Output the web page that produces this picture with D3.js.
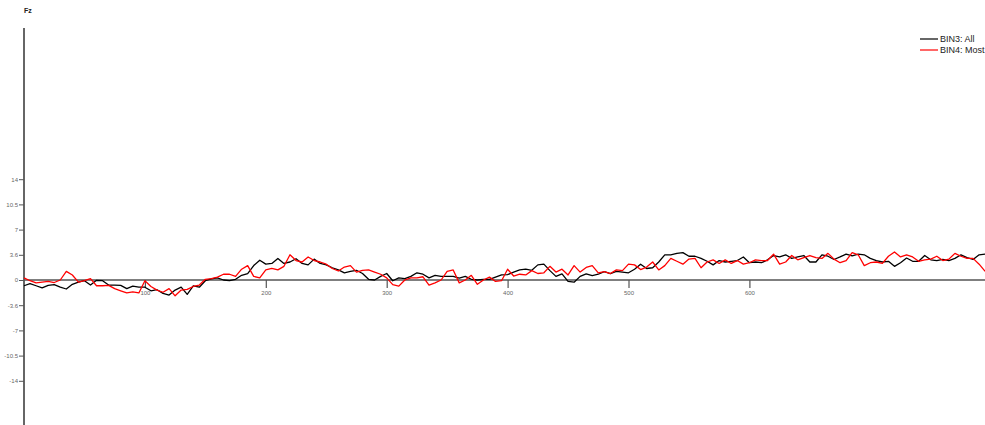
<!DOCTYPE html>
<html>
<head>
<meta charset="utf-8">
<script src="https://cdn.jsdelivr.net/npm/d3@7"></script>
<style>
  body { margin: 0; background: #fff; }
  svg { display: block; font-family: "Liberation Sans", Arial, sans-serif; }
</style>
</head>
<body>
<div id="chart-area"></div>
<script>
// channel + legend
var channelName = 'Fz';
var seriesNames = ['BIN3: All', 'BIN4: Most'];
var seriesColors = ['#000000', '#ff0000'];

// sample times (ms), one every 5 ms
var sampleStep = 5;
var times = d3.range(0, 800, sampleStep);

// amplitude (uV)
var bin3 = [
  -0.8, -0.5, -0.8, -1.1, -0.75, -0.65, -1.0, -1.25, -0.6, -0.3,
  -0.1, -0.7, -0.05, -0.1, -0.7, -0.7, -0.75, -1.2, -0.85, -1.0,
  -1.0, -1.5, -1.35, -1.85, -2.1, -1.4, -1.0, -2.0, -0.8, -1.0,
  -0.1, 0.15, 0.3, 0.0, -0.1, 0.1, 0.65, 0.9, 2.0, 2.75,
  2.2, 2.3, 3.0, 2.3, 2.5, 2.95, 2.3, 2.1, 2.9, 2.3,
  2.1, 1.7, 1.4, 1.0, 1.2, 1.35, 0.9, 0.1, 0.0, 0.5,
  0.9, -0.1, 0.3, 0.2, 0.5, 1.0, 0.8, 0.3, 0.65, 0.5,
  0.5, 0.5, 0.25, 0.5, 0.1, 0.0, 0.1, 0.1, 0.4, 0.7,
  0.75, 1.1, 1.4, 1.5, 1.35, 2.1, 2.2, 1.3, 0.5, 0.85,
  -0.2, -0.3, 0.5, 0.85, 0.6, 0.8, 1.15, 0.9, 1.2, 1.1,
  1.0, 1.5, 2.2, 1.6, 1.7, 2.5, 3.5, 3.5, 3.7, 3.8,
  3.3, 3.3, 3.0, 2.6, 2.1, 2.7, 2.5, 2.6, 2.7, 3.2,
  2.4, 2.5, 2.4, 2.8, 3.4, 3.2, 3.5, 3.0, 3.2, 3.4,
  2.5, 2.5, 3.5, 3.3, 2.85, 3.2, 3.6, 3.35, 3.6, 3.5,
  3.0, 2.7, 2.5, 2.6, 1.9, 2.4, 3.05, 2.6, 2.6, 3.4,
  2.8, 2.7, 2.85, 2.7, 3.0, 3.5, 3.1, 2.85, 3.5, 3.6
];

var bin4 = [
  0.3, -0.1, -0.4, -0.3, -0.2, -0.35, 0.0, 1.2, 0.7, -0.3,
  -0.1, 0.2, -0.8, -0.8, -0.75, -1.2, -1.5, -1.8, -1.65, -1.8,
  -0.1, -0.9, -1.4, -1.7, -1.2, -2.2, -1.4, -1.3, -0.9, -0.7,
  0.1, 0.2, 0.4, 0.8, 0.8, 0.5, 1.5, 2.0, 0.5, 0.3,
  1.4, 1.6, 1.4, 1.9, 3.5, 2.7, 2.5, 3.2, 2.7, 2.5,
  2.2, 1.6, 1.25, 1.8, 2.0, 1.1, 1.35, 1.4, 1.1, 0.8,
  0.3, -0.65, -0.85, 0.0, 0.3, 0.3, 0.45, -0.7, -0.4, 0.0,
  1.2, 1.4, -0.4, 0.0, 0.65, -0.6, 0.0, 0.4, -0.2, -0.1,
  1.5, 0.55, 0.8, 0.7, 1.3, 0.9, 1.0, 1.9, 1.1, 1.5,
  0.7, 2.0, 1.1, 1.75, 2.0, 1.0, 1.15, 0.9, 1.4, 1.3,
  2.2, 2.1, 1.45, 1.8, 2.5, 1.4, 2.0, 3.0, 2.6, 2.2,
  2.9, 3.0, 1.7, 2.5, 2.8, 2.3, 2.8, 2.3, 2.7, 2.2,
  2.4, 2.8, 2.7, 2.7, 3.6, 2.2, 2.5, 3.4, 2.8, 3.1,
  3.4, 3.1, 3.0, 3.7, 2.9, 2.4, 2.7, 3.8, 3.5, 2.0,
  2.4, 2.5, 2.3, 3.3, 3.9, 3.2, 3.5, 3.2, 2.6, 2.8,
  2.9, 3.3, 2.7, 2.9, 3.7, 3.3, 3.0, 3.0, 2.2, 1.2
];

var seriesValues = [bin3, bin4];

// axis ticks (labels as printed in the figure)
var xTickValues = [100, 200, 300, 400, 500, 600];
var yTickValues = [-14, -10.5, -7, -3.5, 0, 3.5, 7, 10.5, 14];
var yTickLabels = ['-14', '-10.5', '-7', '-3.6', '0', '3.6', '7', '10.5', '14'];

var width = 985, height = 425;

var svg = d3.select('#chart-area')
  .append('svg')
    .attr('width', width)
    .attr('height', height);

// scales
var xScale = d3.scaleLinear()
  .domain([0, 800])
  .range([24, 24 + 800 * 1.209]);

var yScale = d3.scaleLinear()
  .domain([-20, 35])
  .range([424, 28]);

// channel label
svg.append('text')
  .attr('x', 24)
  .attr('y', 13)
  .attr('font-size', '7px')
  .attr('font-weight', 'bold')
  .attr('fill', '#222')
  .text(channelName);

// y axis at time 0
var yAxisCall = d3.axisLeft(yScale)
  .tickValues(yTickValues)
  .tickSize(5)
  .tickPadding(1)
  .tickFormat((d, i) => yTickLabels[i]);

var yAxisGroup = svg.append('g')
  .attr('class', 'y-axis')
  .attr('transform', 'translate(' + xScale(0) + ', 0)')
  .call(yAxisCall);

yAxisGroup.select('.domain')
  .attr('d', 'M0,' + yScale(35) + 'V' + (height + 5))
  .attr('stroke', '#333')
  .attr('stroke-width', 1.5);

yAxisGroup.selectAll('.tick line').attr('stroke', '#555');
yAxisGroup.selectAll('.tick text')
  .attr('font-size', '6px')
  .attr('fill', '#666')
  .attr('font-family', '"Liberation Sans", Arial, sans-serif');

// x axis along zero
var xAxisCall = d3.axisBottom(xScale)
  .tickValues(xTickValues)
  .tickSize(8)
  .tickPadding(3);

var xAxisGroup = svg.append('g')
  .attr('class', 'x-axis')
  .attr('transform', 'translate(0, ' + yScale(0) + ')')
  .call(xAxisCall);

xAxisGroup.select('.domain')
  .attr('d', 'M' + xScale(0) + ',0H' + width)
  .attr('stroke', '#555')
  .attr('stroke-width', 1.5);

xAxisGroup.selectAll('.tick line')
  .attr('stroke', '#555')
  .attr('stroke-width', 1.2);
xAxisGroup.selectAll('.tick text')
  .attr('font-size', '6px')
  .attr('fill', '#666')
  .attr('font-family', '"Liberation Sans", Arial, sans-serif');

// waveforms
var line = d3.line()
  .x((d, i) => xScale(times[i]))
  .y(d => yScale(d));

svg.selectAll('path.wave')
  .data(seriesValues)
  .enter()
  .append('path')
    .attr('class', 'wave')
    .attr('d', line)
    .attr('fill', 'none')
    .attr('stroke', (d, i) => seriesColors[i])
    .attr('stroke-width', 1.3)
    .attr('stroke-linejoin', 'round');

// legend
var legend = svg.append('g')
  .attr('transform', 'translate(920, 39)');

var legendItems = legend.selectAll('g')
  .data(seriesNames)
  .enter()
  .append('g')
    .attr('transform', (d, i) => 'translate(0, ' + i * 11 + ')');

legendItems.append('line')
  .attr('x1', 0)
  .attr('x2', 18)
  .attr('y1', 0)
  .attr('y2', 0)
  .attr('stroke', (d, i) => seriesColors[i])
  .attr('stroke-width', 1.2);

legendItems.append('text')
  .attr('x', 20)
  .attr('y', 3.3)
  .attr('font-size', '9px')
  .attr('fill', '#222')
  .text(d => d);
</script>
</body>
</html>
